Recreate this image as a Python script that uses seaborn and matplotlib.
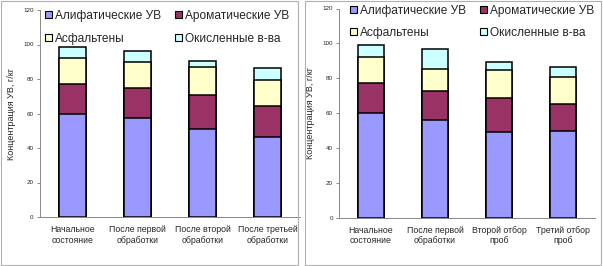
import numpy as np
import pandas as pd
import matplotlib
matplotlib.use('Agg')
import matplotlib.pyplot as plt
import seaborn as sns
from matplotlib.patches import Patch, Rectangle

# 数据
series_names = ['Алифатические УВ', 'Ароматические УВ', 'Асфальтены', 'Окисленные в-ва']
series_colors = ['#9999FF', '#993366', '#FFFFCC', '#CCFFFF']

categories_left = ['Начальное\nсостояние', 'После первой\nобработки',
                   'После второй\nобработки', 'После третьей\nобработки']
aliph_left = [60.0, 57.5, 51.0, 46.5]
arom_left = [17.0, 17.5, 20.0, 18.0]
asph_left = [15.0, 15.0, 16.0, 15.0]
oxid_left = [6.5, 6.0, 3.7, 7.0]

categories_right = ['Начальное\nсостояние', 'После первой\nобработки',
                    'Второй отбор\nпроб', 'Третий отбор\nпроб']
aliph_right = [60.0, 56.0, 49.0, 49.5]
arom_right = [17.0, 16.5, 19.5, 15.5]
asph_right = [15.0, 12.5, 16.0, 15.5]
oxid_right = [7.0, 11.5, 5.0, 6.0]

y_ticks = [0, 20, 40, 60, 80, 100, 120]
y_label = 'Концентрация УВ, г/кг'

sns.set_style('white')
plt.rcParams['font.family'] = ['Liberation Sans', 'DejaVu Sans']

W, H = 603, 266
fig = plt.figure(figsize=(W / 100, H / 100), dpi=100)


def draw_panel(rect, cats, layers, col_x, legend_y, lsp):
    ax = fig.add_axes(rect)
    df = pd.DataFrame({'cat': cats})
    cum = np.cumsum(np.array(layers), axis=0)
    # 从最高层开始画，下层覆盖上层 -> 堆积柱
    for i in range(len(layers) - 1, -1, -1):
        df['val'] = cum[i]
        sns.barplot(data=df, x='cat', y='val', color=series_colors[i], saturation=1,
                    edgecolor='black', linewidth=1.1, width=0.42, ax=ax)
    ax.set_ylim(0, 120)
    ax.set_xlim(-0.5, 3.5)
    ax.set_yticks(y_ticks)
    ax.tick_params(axis='y', labelsize=4.5, length=2.5, width=0.6, color='#777777', pad=2, left=True)
    ax.tick_params(axis='x', labelsize=6.3, length=0, pad=6)
    ax.set_xlabel('')
    ax.set_ylabel(y_label, fontsize=6.5, labelpad=5)
    for s in ['top', 'right']:
        ax.spines[s].set_visible(False)
    for s in ['left', 'bottom']:
        ax.spines[s].set_color('#888888')
        ax.spines[s].set_linewidth(0.7)
    # 图例: 两列，每列单独放置
    for col, idx in enumerate([[0, 2], [1, 3]]):
        handles = [Patch(facecolor=series_colors[k], edgecolor='black', linewidth=0.8) for k in idx]
        labels = [series_names[k] for k in idx]
        fig.legend(handles, labels, loc='upper left', ncol=1, frameon=False,
                   bbox_to_anchor=(col_x[col] / W, 1 - legend_y / H),
                   fontsize=8.6, handlelength=0.55, handleheight=0.55, handletextpad=0.3,
                   labelspacing=lsp, borderpad=0, borderaxespad=0)
    return ax


draw_panel([40 / W, 49 / H, 260 / W, 207 / H], categories_left,
           [aliph_left, arom_left, asph_left, oxid_left], (45, 175), 10, 0.9)
draw_panel([339 / W, 48.5 / H, 256 / W, 209 / H], categories_right,
           [aliph_right, arom_right, asph_right, oxid_right], (350, 480), 5, 0.8)

# 图表外框
fig.patches.append(Rectangle((1 / W, 1 / H), 297 / W, 264 / H, transform=fig.transFigure,
                             fill=False, edgecolor='#b0b0b0', linewidth=0.8))
fig.patches.append(Rectangle((305 / W, 1 / H), 296 / W, 264 / H, transform=fig.transFigure,
                             fill=False, edgecolor='#b0b0b0', linewidth=0.8))

plt.savefig('out.png', dpi=100)
plt.close()
